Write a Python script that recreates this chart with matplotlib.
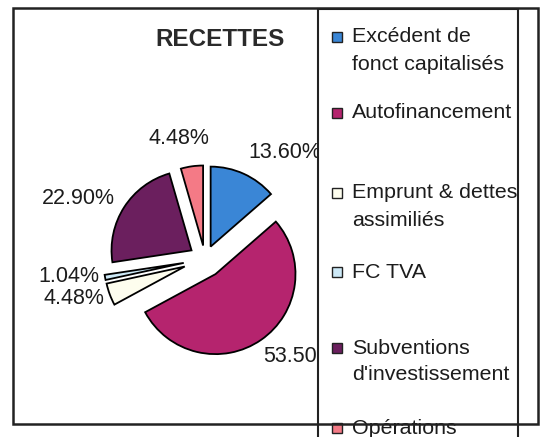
import matplotlib
matplotlib.use("Agg")
from matplotlib import pyplot as plt
from matplotlib.patches import Rectangle

plt.rcParams['font.family'] = ['Liberation Sans', 'DejaVu Sans']

# data
labels = ["Excédent de\nfonct capitalisés", "Autofinancement", "Emprunt & dettes\nassimiliés",
          "FC TVA", "Subventions\nd'investissement", "Opérations"]
values = [13.60, 53.50, 4.48, 1.04, 22.90, 4.48]
pct_texts = ["13.60%", "53.50%", "4.48%", "1.04%", "22.90%", "4.48%"]
colors = ['#3a86d6', '#b5246e', '#fdfdee', '#cde9f7', '#6b1f5e', '#f47a86']
explode_frac = [0.17, 0.23, 0.27, 0.27, 0.2, 0.17]

W, H = 543, 437
R = 80

def py(y):
    # image pixel row -> axes y (y up)
    return H - y

fig = plt.figure(figsize=(W / 100, H / 100), dpi=100)
ax = fig.add_axes([0, 0, 1, 1])

# explode is in data units, so scale by radius
ax.pie(values, colors=colors, explode=[e * R for e in explode_frac], startangle=90,
       counterclock=False, center=(205, py(259)), radius=R,
       wedgeprops=dict(edgecolor='black', linewidth=1.3))

# percentage labels (x, y, ha) in pixels
label_pos = [(248, 152, 'left'), (263, 357, 'left'), (104, 298, 'right'),
             (99, 276, 'right'), (115, 198, 'right'), (179, 138, 'center')]
for txt, (lx, ly, ha) in zip(pct_texts, label_pos):
    ax.text(lx, py(ly), txt, ha=ha, va='center', fontsize=15.5, color='#1c1c1c', zorder=3)

ax.text(220, py(39), "RECETTES", ha='center', va='center', fontsize=17.5,
        fontweight='bold', color='#2a2a2a', zorder=3)

# legend box (white, covers labels)
ax.add_patch(Rectangle((318, py(460)), 200, 451, facecolor='white', edgecolor='#222222',
                       linewidth=1.5, zorder=5))
entry_y = [37, 113, 193, 272, 348, 428]
for lab, col, ey in zip(labels, colors, entry_y):
    ax.add_patch(Rectangle((332, py(ey) - 5), 10, 10, facecolor=col, edgecolor='#222222',
                           linewidth=1.0, zorder=6))
    for i, line in enumerate(lab.split("\n")):
        ax.text(352, py(ey + i * 27), line, ha='left', va='center', fontsize=15.4,
                color='#1c1c1c', zorder=6)

# outer frame
ax.add_patch(Rectangle((13, py(424)), 525, 416, facecolor='none', edgecolor='#222222',
                       linewidth=1.8, zorder=7))

ax.set_xlim(0, W)
ax.set_ylim(0, H)
ax.set_aspect('equal')
ax.axis('off')

fig.savefig("out.png", dpi=100)
plt.close()
